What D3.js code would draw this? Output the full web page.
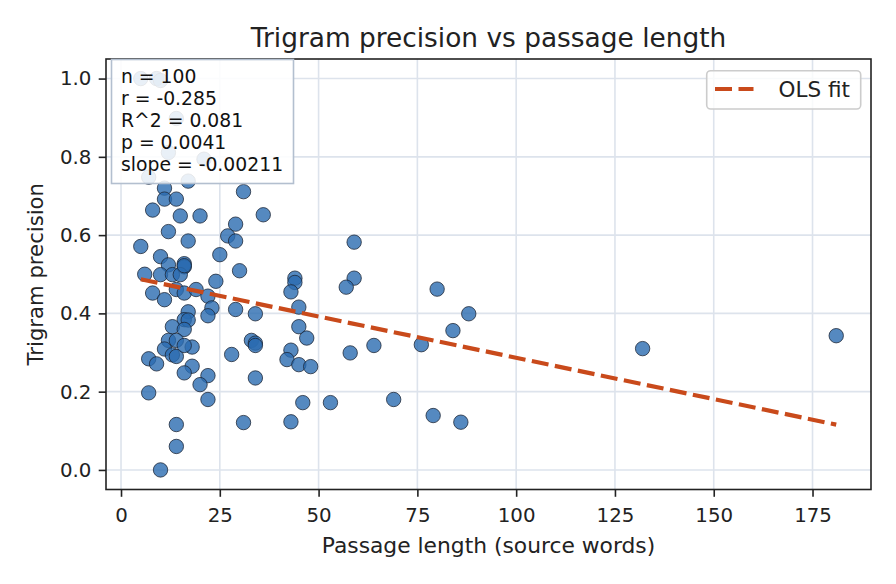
<!DOCTYPE html>
<html>
<head>
<meta charset="utf-8">
<script src="https://cdn.jsdelivr.net/npm/d3@7"></script>
<style>
  body { margin: 0; background: #fff; }
  svg { display: block; font-family: "DejaVu Sans", sans-serif; }
</style>
</head>
<body>
<svg width="896" height="584"></svg>
<script>
// passage length (source words) and trigram precision
const lengths = [
  5, 9, 10, 14, 12, 21, 7, 17, 11, 31, 11, 14, 8, 15, 20, 36,
  12, 17, 29, 27, 29, 5, 10, 25, 12, 16, 16, 6, 10, 13, 15, 30,
  44, 44, 43, 24, 8, 11, 14, 16, 19, 22, 29, 34, 45, 17, 23, 22,
  16, 17, 13, 45, 16, 12, 14, 11, 13, 14, 18, 16, 7, 9, 28, 33,
  34, 34, 43, 42, 45, 47, 18, 16, 22, 20, 34, 22, 7, 46, 14, 31,
  43, 14, 10, 59, 59, 57, 80, 88, 84, 48, 58, 64, 76, 53, 69, 79,
  86, 132, 181, 16
];
const precision = [
  1.0, 1.0, 0.995, 0.898, 0.811, 0.794, 0.748, 0.738, 0.72, 0.711, 0.692, 0.692, 0.664, 0.649, 0.649, 0.652,
  0.609, 0.585, 0.628, 0.598, 0.585, 0.571, 0.545, 0.55, 0.524, 0.527, 0.519, 0.5, 0.499, 0.499, 0.499, 0.509,
  0.49, 0.479, 0.455, 0.482, 0.452, 0.435, 0.461, 0.452, 0.461, 0.444, 0.41, 0.399, 0.416, 0.404, 0.414, 0.394,
  0.384, 0.383, 0.366, 0.366, 0.359, 0.331, 0.331, 0.309, 0.294, 0.29, 0.314, 0.318, 0.284, 0.271, 0.295, 0.331,
  0.324, 0.318, 0.306, 0.282, 0.269, 0.337, 0.265, 0.248, 0.241, 0.218, 0.235, 0.18, 0.197, 0.172, 0.116, 0.121,
  0.123, 0.06, 0.0, 0.582, 0.49, 0.467, 0.462, 0.399, 0.356, 0.264, 0.299, 0.318, 0.32, 0.172, 0.18, 0.139,
  0.122, 0.31, 0.343, 0.522
];
const fitSlope = -0.00211;
const fitIntercept = 0.4976;
const statLines = ["n = 100", "r = -0.285", "R^2 = 0.081", "p = 0.0041", "slope = -0.00211"];
const xTicks = [0, 25, 50, 75, 100, 125, 150, 175];
const yTicks = [0.0, 0.2, 0.4, 0.6, 0.8, 1.0];

const points = lengths.map((d, i) => ({ x: d, y: precision[i] }));

const plot = { left: 106, right: 871, top: 59, bottom: 489.5 };
const tickLen = 7.3;

const xMin = d3.min(lengths), xMax = d3.max(lengths);
const xPad = (xMax - xMin) * 0.05;
const x = d3.scaleLinear().domain([xMin - xPad, xMax + xPad]).range([plot.left, plot.right]);
const y = d3.scaleLinear().domain([-0.05, 1.05]).range([plot.bottom, plot.top]);

const svg = d3.select("svg");

// grid
const grid = svg.append("g").attr("stroke", "#dde3ec").attr("stroke-width", 1.6);
grid.selectAll(".gx").data(xTicks).join("line")
  .attr("x1", d => x(d)).attr("x2", d => x(d))
  .attr("y1", plot.top).attr("y2", plot.bottom);
grid.selectAll(".gy").data(yTicks).join("line")
  .attr("y1", d => y(d)).attr("y2", d => y(d))
  .attr("x1", plot.left).attr("x2", plot.right);

// points
svg.append("g")
  .selectAll("circle")
  .data(points)
  .join("circle")
  .attr("cx", d => x(d.x))
  .attr("cy", d => y(d.y))
  .attr("r", 7.2)
  .attr("fill", "#2b6cb0")
  .attr("fill-opacity", 0.8)
  .attr("stroke", "#1a2433")
  .attr("stroke-opacity", 0.85)
  .attr("stroke-width", 0.9);

// OLS fit line
svg.append("line")
  .attr("x1", x(xMin)).attr("y1", y(fitIntercept + fitSlope * xMin))
  .attr("x2", x(xMax)).attr("y2", y(fitIntercept + fitSlope * xMax))
  .attr("stroke", "#c94a1b")
  .attr("stroke-width", 4.2)
  .attr("stroke-dasharray", "17,6.5");

// axes
const xAxis = svg.append("g")
  .attr("transform", `translate(0,${plot.bottom})`)
  .call(d3.axisBottom(x).tickValues(xTicks).tickSize(tickLen).tickPadding(11).tickFormat(d3.format("d")));
const yAxis = svg.append("g")
  .attr("transform", `translate(${plot.left},0)`)
  .call(d3.axisLeft(y).tickValues(yTicks).tickSize(tickLen).tickPadding(7.3).tickFormat(d3.format(".1f")));
[xAxis, yAxis].forEach(a => {
  a.select(".domain").remove();
  a.selectAll(".tick line").attr("stroke", "#222").attr("stroke-width", 1.6);
  a.selectAll(".tick text").attr("fill", "#222").attr("font-size", 19.8)
    .attr("font-family", "DejaVu Sans");
});

svg.append("rect")
  .attr("x", plot.left).attr("y", plot.top)
  .attr("width", plot.right - plot.left).attr("height", plot.bottom - plot.top)
  .attr("fill", "none").attr("stroke", "#222").attr("stroke-width", 1.6);

// labels
svg.append("text")
  .attr("x", (plot.left + plot.right) / 2).attr("y", 47)
  .attr("text-anchor", "middle").attr("font-size", 26.4).attr("fill", "#222")
  .text("Trigram precision vs passage length");
svg.append("text")
  .attr("x", (plot.left + plot.right) / 2).attr("y", 552.5)
  .attr("text-anchor", "middle").attr("font-size", 21.8).attr("fill", "#222")
  .text("Passage length (source words)");
svg.append("text")
  .attr("transform", `translate(43,${(plot.top + plot.bottom) / 2}) rotate(-90)`)
  .attr("text-anchor", "middle").attr("font-size", 21.2).attr("fill", "#222")
  .text("Trigram precision");

// stats box
const stats = svg.append("g");
stats.append("rect")
  .attr("x", 111.5).attr("y", 59.5).attr("width", 182).attr("height", 124)
  .attr("fill", "#fff").attr("fill-opacity", 0.87)
  .attr("stroke", "#b3bfcf").attr("stroke-width", 1.6);
stats.selectAll("text")
  .data(statLines)
  .join("text")
  .attr("x", 121)
  .attr("y", (d, i) => 83 + i * 22.1)
  .attr("font-size", 18.8)
  .attr("fill", "#111")
  .text(d => d);

// legend
const legend = svg.append("g");
legend.append("rect")
  .attr("x", 706.7).attr("y", 70.7).attr("width", 154).attr("height", 38.3).attr("rx", 4)
  .attr("fill", "#fff").attr("fill-opacity", 0.8)
  .attr("stroke", "#cccccc").attr("stroke-width", 1.6);
legend.append("line")
  .attr("x1", 715).attr("x2", 753.5).attr("y1", 89).attr("y2", 89)
  .attr("stroke", "#c94a1b").attr("stroke-width", 4.2).attr("stroke-dasharray", "17,6.5");
legend.append("text")
  .attr("x", 778.5).attr("y", 96.5)
  .attr("font-size", 21.5).attr("fill", "#222")
  .text("OLS fit");
</script>
</body>
</html>
